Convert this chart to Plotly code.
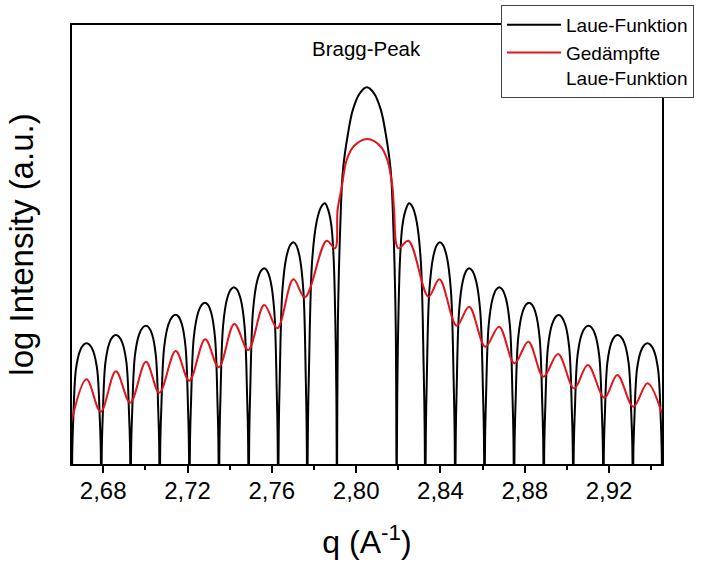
import plotly.graph_objects as go

# ---------------- data ----------------
# zero positions of the Laue function (q, 1/A)
zero_q = [2.6651, 2.6791, 2.6930, 2.7068, 2.7209, 2.7349, 2.7490, 2.7630, 2.7768, 2.7909,
          2.8192, 2.8328, 2.8470, 2.8609, 2.8749, 2.8890, 2.9030, 2.9173, 2.9313, 2.9452]
# lobe maxima of the Laue function
apex_q = [2.6721, 2.6860, 2.7003, 2.7144, 2.7283, 2.7420, 2.7564, 2.7702, 2.7852, 2.8051,
          2.8251, 2.8397, 2.8536, 2.8679, 2.8820, 2.8961, 2.9102, 2.9240, 2.9382]
apex_v = [120.7, 129.0, 138.3, 149.3, 161.3, 176.7, 195.7, 221.7, 260.7, 376.7,
          260.7, 221.7, 195.7, 176.7, 161.3, 149.0, 138.3, 129.0, 120.7]
# lobe flank profiles: fraction of way from apex to zero, and relative drop
side_s = [0.2, 0.45, 0.72, 0.9, 0.96]
side_drop = [0.012, 0.064, 0.217, 0.63, 0.85]
inner_s = [0.3, 0.54, 0.73, 0.87, 0.95]
inner_drop = [0.03, 0.088, 0.218, 0.47, 0.73]
center_s = [0.24, 0.47, 0.63, 0.8, 0.89, 0.97]
center_drop = [0.016, 0.06, 0.122, 0.22, 0.37, 0.63]
zero_v = -40.0

# damped Laue function (red)
red_q = [2.6652, 2.6721, 2.6788, 2.6860, 2.6928, 2.7003, 2.7066, 2.7144, 2.7208, 2.7284,
         2.7348, 2.7422, 2.7488, 2.7564, 2.7626, 2.7702, 2.7757, 2.7860, 2.7900, 2.7912,
         2.7932, 2.7955, 2.7987, 2.8053, 2.8117, 2.8148, 2.8172, 2.8180, 2.8200, 2.8248,
         2.8343, 2.8395, 2.8477, 2.8536, 2.8613, 2.8678, 2.8751, 2.8817, 2.8888, 2.8958,
         2.9034, 2.9099, 2.9178, 2.9239, 2.9315, 2.9382, 2.9450]
red_v = [44.7, 84.7, 52.3, 92.7, 61.3, 102.3, 71.3, 113.0, 83.3, 124.7,
         96.7, 140.0, 114.0, 159.0, 135.7, 184.7, 166.7, 223.3, 215.7, 254.0,
         277.3, 304.0, 317.3, 325.0, 317.3, 304.0, 277.3, 254.0, 215.7, 223.3,
         167.3, 184.7, 138.3, 157.3, 117.3, 137.3, 100.7, 122.3, 87.3, 110.0,
         75.7, 99.0, 66.3, 89.0, 57.3, 80.7, 50.7]

x_range = [2.6652, 2.9451]
y_range = [0, 439]
x_ticks = [2.68, 2.72, 2.76, 2.80, 2.84, 2.88, 2.92]

# ---------------- build Laue curve from read lobes ----------------
ic = apex_v.index(max(apex_v))
bq, bv = [zero_q[0]], [zero_v]
for i in range(len(apex_q)):
    z0, z1, a, h = zero_q[i], zero_q[i + 1], apex_q[i], apex_v[i]
    if i == ic:
        lp = rp = (center_s, center_drop)
    elif i == ic - 1:
        lp, rp = (side_s, side_drop), (inner_s, inner_drop)
    elif i == ic + 1:
        lp, rp = (inner_s, inner_drop), (side_s, side_drop)
    else:
        lp = rp = (side_s, side_drop)
    for s, d in reversed(list(zip(*lp))):
        bq.append(a - s * (a - z0))
        bv.append(h * (1 - d))
    bq.append(a)
    bv.append(h)
    for s, d in zip(*rp):
        bq.append(a + s * (z1 - a))
        bv.append(h * (1 - d))
    bq.append(z1)
    bv.append(zero_v)

FONT = "Liberation Sans, Arial, sans-serif"

fig = go.Figure()
fig.add_trace(go.Scatter(x=bq, y=bv, mode="lines", name="Laue-Funktion",
                         line=dict(color="black", width=2, shape="spline", smoothing=1)))
fig.add_trace(go.Scatter(x=red_q, y=red_v, mode="lines", name="Gedämpfte<br>Laue-Funktion",
                         line=dict(color="#e3141c", width=2, shape="spline", smoothing=1)))

fig.update_layout(
    template="none",
    width=702, height=563,
    margin=dict(l=72, r=40, t=25, b=99, autoexpand=False),
    paper_bgcolor="white", plot_bgcolor="white",
    font=dict(family=FONT, color="black"),
    separators=",.",
    showlegend=True,
    legend=dict(x=429 / 590, y=1 + 20 / 439, xanchor="left", yanchor="top",
                bgcolor="white", bordercolor="#444444", borderwidth=1,
                font=dict(size=19, family=FONT), itemwidth=54, valign="top",
                tracegroupgap=0),
    annotations=[dict(text="Bragg-Peak", x=2.8051, y=1 - 23 / 439, xref="x", yref="paper",
                      showarrow=False, font=dict(size=20.5, family=FONT),
                      xanchor="center", yanchor="middle")],
)
fig.update_xaxes(range=x_range, tickvals=x_ticks, tickformat=".2f",
                 showline=True, linecolor="black", linewidth=2, mirror=True,
                 ticks="outside", ticklen=7, tickwidth=1.5, tickcolor="black",
                 minor=dict(ticks="outside", ticklen=4, tickwidth=1.5, tickcolor="black", dtick=0.02, tick0=2.66),
                 showgrid=False, zeroline=False, automargin=False,
                 tickfont=dict(size=24, family=FONT), ticklabelstandoff=-3,
                 title=dict(text="q (A<sup>-1</sup>)", font=dict(size=32, family=FONT), standoff=28))
fig.update_yaxes(range=y_range, showticklabels=False, ticks="",
                 showline=True, linecolor="black", linewidth=2, mirror=True,
                 showgrid=False, zeroline=False, automargin=False,
                 title=dict(text="log Intensity (a.u.)", font=dict(size=33, family=FONT), standoff=26))

fig.write_html("out.html")
